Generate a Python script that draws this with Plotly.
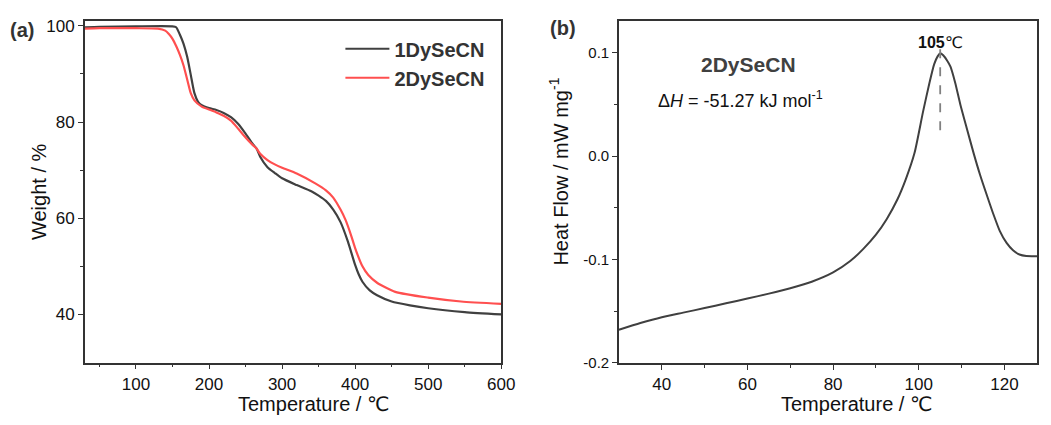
import plotly.graph_objects as go

# ---- TGA data (panel a) ----
t_1dy = [30, 50, 100, 150, 155, 160, 165, 170, 175, 180, 185, 190, 200, 210, 220, 230, 240, 250,
         260, 265, 270, 280, 290, 300, 320, 340, 350, 360, 370, 380, 390, 400, 405, 410, 420, 430,
         450, 475, 500, 550, 600]
w_1dy = [99.7, 99.8, 99.9, 99.9, 99.7, 98.2, 96.3, 93.6, 89.8, 86.0, 84.2, 83.5, 82.9, 82.5, 81.9,
         81.0, 79.6, 77.6, 75.4, 74.5, 72.8, 70.6, 69.4, 68.3, 66.9, 65.6, 64.7, 63.6, 61.8, 59.2,
         55.2, 50.3, 48.3, 46.8, 45.0, 44.0, 42.7, 41.9, 41.3, 40.5, 40.0]

t_2dy = [30, 50, 100, 130, 140, 145, 150, 155, 160, 165, 170, 175, 180, 190, 200, 210, 220, 230,
         240, 250, 260, 265, 270, 280, 290, 300, 320, 346, 360, 370, 380, 387, 395, 400, 410, 418,
         430, 455, 500, 545, 600]
w_2dy = [99.4, 99.5, 99.5, 99.4, 99.0, 98.3, 97.3, 95.8, 94.0, 91.8, 88.9, 86.0, 84.5, 83.2, 82.6,
         82.0, 81.3, 80.3, 78.6, 76.8, 75.2, 74.5, 73.4, 72.1, 71.2, 70.5, 69.3, 67.2, 65.8, 64.3,
         61.8, 59.6, 56.2, 53.8, 50.0, 48.2, 46.6, 44.7, 43.5, 42.7, 42.2]

# ---- DSC data (panel b) ----
t_dsc = [30, 35, 40, 45, 50, 55, 60, 65, 70, 75, 80, 84, 87, 90, 92.5, 95, 97, 99, 101, 102.5,
         103.6, 104.4, 105, 105.7, 106.6, 107.4, 108.5, 109.7, 111.2, 112.8, 114.3, 115.9, 117.4,
         118.9, 120.5, 122, 123.5, 125.1, 127.6]
h_dsc = [-0.168, -0.1615, -0.1558, -0.1514, -0.1470, -0.1424, -0.1378, -0.1330, -0.1278, -0.1215,
         -0.1125, -0.1015, -0.0900, -0.0760, -0.0610, -0.0420, -0.0220, 0.0029, 0.043, 0.071,
         0.0890, 0.0965, 0.0995, 0.0975, 0.0925, 0.0865, 0.071, 0.050, 0.027, 0.0029, -0.018,
         -0.0379, -0.056, -0.0723, -0.084, -0.0911, -0.0952, -0.0967, -0.0968]

peak_t = 105
peak_label = "<b>105</b>℃"
dsc_name = "2DySeCN"
dh_text = "Δ<i>H</i> = -51.27 kJ mol<sup>-1</sup>"

W, H = 1051, 425
FONT = "Arial, Liberation Sans, DejaVu Sans, sans-serif"
AX = "#333333"
BLACK = "#404040"
RED = "#ff4f4f"

def px(x):
    return x / W

def py(y):
    return 1 - y / H

fig = go.Figure()
fig.add_trace(go.Scatter(x=t_1dy, y=w_1dy, mode="lines", name="<b>1DySeCN</b>",
                         line=dict(color=BLACK, width=2.2, shape="spline", smoothing=0.6),
                         xaxis="x", yaxis="y"))
fig.add_trace(go.Scatter(x=t_2dy, y=w_2dy, mode="lines", name="<b>2DySeCN</b>",
                         line=dict(color=RED, width=2.2, shape="spline", smoothing=0.6),
                         xaxis="x", yaxis="y"))
fig.add_trace(go.Scatter(x=t_dsc, y=h_dsc, mode="lines", showlegend=False,
                         line=dict(color=BLACK, width=2, shape="spline", smoothing=0.6),
                         xaxis="x2", yaxis="y2"))

axis_common = dict(showline=True, linecolor=AX, linewidth=1.5, mirror=True, showgrid=False,
                   zeroline=False, ticks="outside", ticklen=5, tickwidth=1.3, tickcolor=AX)
tick17 = dict(family=FONT, size=17, color="#111111")

fig.update_layout(
    width=W, height=H,
    autosize=False,
    margin=dict(l=0, r=0, t=0, b=0),
    paper_bgcolor="white", plot_bgcolor="white",
    font=dict(family=FONT, color="#111111"),
    xaxis=dict(domain=[px(86), px(508)], range=[30, 600], anchor="y",
               tickvals=[100, 200, 300, 400, 500, 600], tickfont=tick17,
               minor=dict(tickvals=[50, 150, 250, 350, 450, 550], ticks="outside", ticklen=3,
                          tickcolor=AX, tickwidth=1.2),
               **axis_common),
    yaxis=dict(domain=[py(369), py(17)], range=[30, 101.1], anchor="x",
               tickvals=[40, 60, 80, 100], tickfont=tick17,
               minor=dict(tickvals=[50, 70, 90], ticks="outside", ticklen=3,
                          tickcolor=AX, tickwidth=1.2),
               **axis_common),
    xaxis2=dict(domain=[px(627.3), 1.0], range=[30, 127.6], anchor="y2",
                tickvals=[40, 60, 80, 100, 120], tickfont=tick17,
                minor=dict(tickvals=[50, 70, 90, 110], ticks="outside", ticklen=3,
                           tickcolor=AX, tickwidth=1.2),
                **axis_common),
    yaxis2=dict(domain=[py(369.3), py(17.7)], range=[-0.2, 0.1305], anchor="x2",
                tickvals=[-0.2, -0.1, 0.0, 0.1], ticktext=["-0.2", "-0.1", "0.0", "0.1"],
                tickfont=dict(family=FONT, size=15, color="#111111"),
                minor=dict(tickvals=[-0.15, -0.05, 0.05], ticks="outside", ticklen=3,
                           tickcolor=AX, tickwidth=1.2),
                **axis_common),
    legend=dict(x=px(345), y=py(26), xanchor="left", yanchor="top",
                bgcolor="rgba(0,0,0,0)", font=dict(family=FONT, size=20, color="#333333"),
                itemwidth=44, tracegroupgap=0),
)

# dashed line at the DSC peak
fig.add_shape(type="line", xref="x2", yref="y2", x0=peak_t, x1=peak_t, y0=0.025, y1=0.1045,
              line=dict(color="#808080", width=1.8, dash="dash"))

ann = []
def text(x, y, s, size, bold=False, color="#111111", angle=0, xanchor="center"):
    ann.append(dict(x=px(x), y=py(y), xref="paper", yref="paper", text=(f"<b>{s}</b>" if bold else s),
                    showarrow=False, textangle=angle, xanchor=xanchor, yanchor="middle",
                    font=dict(family=FONT, size=size, color=color)))

text(22, 27, "(a)", 20, bold=True, color="#333333")
text(571, 25, "(b)", 20, bold=True, color="#333333")
text(39, 193, "Weight / %", 20, angle=-90)
text(318, 412, "Temperature / ℃", 20)
text(566, 172, "Heat Flow / mW mg<sup>-1</sup>", 20, angle=-90)
text(868, 412, "Temperature / ℃", 20)
text(759, 62, dsc_name, 21, bold=True, color="#404040")
text(665, 98, dh_text, 18, xanchor="left")
ann.append(dict(x=peak_t, y=0.1, xref="x2", yref="y2", text=peak_label, showarrow=False,
                yanchor="bottom", font=dict(family=FONT, size=16, color="#111111")))
fig.update_layout(annotations=ann)

fig.write_html(
    "out.html",
    config={"responsive": False},
    post_script="document.documentElement.style.overflow='hidden';"
                "document.body.style.margin='0';document.body.style.overflow='hidden';",
)
